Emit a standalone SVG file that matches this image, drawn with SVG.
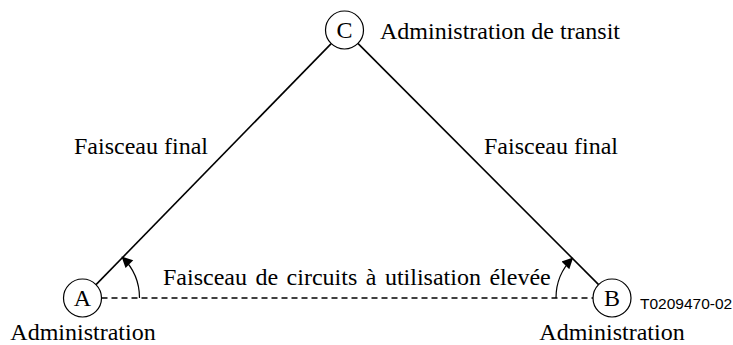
<svg xmlns="http://www.w3.org/2000/svg" width="733" height="345" viewBox="0 0 733 345">
<style>
.t{font-family:"Liberation Serif","Times New Roman",serif;font-size:24px;fill:#000}
.m{text-anchor:middle}
.w{word-spacing:2.5px}
.l{font-family:"Liberation Sans",Arial,sans-serif;font-size:15.5px;fill:#000}
.n{fill:#fff;stroke:#000;stroke-width:1.2}
.c{fill:none;stroke:#000;stroke-width:1.6}
.d{fill:none;stroke:#000;stroke-width:1.6;stroke-dasharray:6 4}
.a{fill:none;stroke:#000;stroke-width:1.2}
</style>
<defs>
<marker id="ah" viewBox="0 0 10 10" refX="9" refY="5" markerWidth="13" markerHeight="11" markerUnits="userSpaceOnUse" orient="auto">
<path d="M0,0 L10,5 L0,10 z" fill="#000"/>
</marker>
</defs>
<rect width="733" height="345" fill="#fff"/>
<g id="connectors">
<line class="c" x1="95.8" y1="284.9" x2="331.2" y2="43.6"/>
<line class="c" x1="598.6" y1="284.6" x2="357.9" y2="43.4"/>
<line class="d" x1="101.5" y1="298" x2="593" y2="298"/>
<path class="a" d="M139.5,298 A57,57 0 0 0 122.3,257.2" marker-end="url(#ah)"/>
<path class="a" d="M556,298 A56,56 0 0 1 572.4,258.4" marker-end="url(#ah)"/>
</g>
<g id="nodeC">
<circle class="n" cx="344.5" cy="30" r="19"/>
<text class="t m" x="344.5" y="38">C</text>
<text class="t" x="380" y="39">Administration de transit</text>
</g>
<g id="nodeA">
<circle class="n" cx="82.5" cy="298" r="19"/>
<text class="t m" x="82.5" y="306">A</text>
<text class="t m" x="83" y="340">Administration</text>
</g>
<g id="nodeB">
<circle class="n" cx="612" cy="298" r="19"/>
<text class="t m" x="612" y="306">B</text>
<text class="t m" x="612" y="340">Administration</text>
</g>
<g id="labels">
<text class="t w" x="163" y="285">Faisceau de circuits à utilisation élevée</text>
<text class="t" x="74" y="154">Faisceau final</text>
<text class="t" x="484" y="154">Faisceau final</text>
<text class="l" x="640" y="309">T0209470-02</text>
</g>
</svg>
